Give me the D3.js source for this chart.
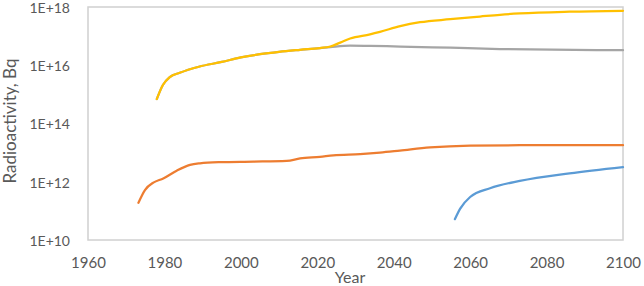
<!DOCTYPE html>
<html>
<head>
<meta charset="utf-8">
<script src="https://cdn.jsdelivr.net/npm/d3@7"></script>
<style>
  body { margin: 0; background: #fff; }
  text { font-family: Lato, "Open Sans", sans-serif; fill: #595959; }
</style>
</head>
<body>
<div id="container"></div>
<script>
// Werte (log-Skala)
const yearTicks = [1960, 1980, 2000, 2020, 2040, 2060, 2080, 2100];
const powerTicks = [1e10, 1e12, 1e14, 1e16, 1e18];

const yellowYears  = [1978, 1979.6, 1981.4, 1984, 1989, 1995, 2000, 2005, 2010, 2015.5, 2020.7, 2023.4, 2026, 2028.6, 2033.8, 2036.4, 2041.7, 2046.9, 2054.8, 2062.6, 2067.8, 2073, 2086, 2100];
const yellowValues = [6.9e14, 2.1e15, 3.9e15, 5.5e15, 8.9e15, 1.3e16, 1.85e16, 2.4e16, 2.9e16, 3.4e16, 3.9e16, 4.4e16, 6.0e16, 8.3e16, 1.15e17, 1.4e17, 2.2e17, 3.0e17, 3.8e17, 4.7e17, 5.4e17, 6.0e17, 6.9e17, 7.4e17];

const grayYears  = [1978, 1979.6, 1981.4, 1984, 1989, 1995, 2000, 2005, 2010, 2015.5, 2020.7, 2023.4, 2028.6, 2033.8, 2041.7, 2054.8, 2067.8, 2100];
const grayValues = [6.9e14, 2.1e15, 3.9e15, 5.5e15, 8.9e15, 1.3e16, 1.85e16, 2.4e16, 2.9e16, 3.4e16, 3.9e16, 4.2e16, 4.7e16, 4.6e16, 4.4e16, 4.0e16, 3.6e16, 3.3e16];

const orangeYears  = [1973.2, 1974.9, 1977.1, 1979.7, 1983.2, 1986.7, 1989.3, 1994.6, 2003.3, 2012, 2015.5, 2020.7, 2024.2, 2031.2, 2036.4, 2041.6, 2049.5, 2060, 2073, 2100];
const orangeValues = [1.9e11, 5.2e11, 9.3e11, 1.3e12, 2.4e12, 3.8e12, 4.3e12, 4.7e12, 4.9e12, 5.2e12, 6.3e12, 7.2e12, 8.1e12, 8.9e12, 1.0e13, 1.17e13, 1.5e13, 1.74e13, 1.8e13, 1.8e13];

const blueYears  = [2056, 2057.4, 2060, 2065.2, 2073, 2086, 2100];
const blueValues = [5.2e10, 1.2e11, 3.0e11, 6.0e11, 1.07e12, 1.95e12, 3.2e12];

const series = [
    {name: "blue",   color: "#5B9BD5", years: blueYears,   values: blueValues},
    {name: "orange", color: "#ED7D31", years: orangeYears, values: orangeValues},
    {name: "gray",   color: "#A5A5A5", years: grayYears,   values: grayValues},
    {name: "yellow", color: "#FFC000", years: yellowYears, values: yellowValues}
];

const width = 644, height = 286;
const margin = {left: 88, right: 21, top: 7, bottom: 46};

const svg = d3.select("#container")
    .append("svg")
    .attr("width", width)
    .attr("height", height);

const x = d3.scaleLinear()
    .domain([1960, 2100])
    .range([margin.left, width - margin.right]);

const y = d3.scaleLog()
    .domain([1e10, 1e18])
    .range([height - margin.bottom, margin.top]);

// Rahmen der Zeichenfläche
svg.append("rect")
    .attr("x", x(1960))
    .attr("y", y(1e18))
    .attr("width", x(2100) - x(1960))
    .attr("height", y(1e10) - y(1e18))
    .attr("fill", "none")
    .attr("stroke", "#d0d0d0")
    .attr("stroke-width", 1.5);

// y-Achse
const yAxis = d3.axisLeft(y)
    .tickValues(powerTicks)
    .tickSize(0)
    .tickPadding(18)
    .tickFormat(d => "1E+" + Math.round(Math.log10(d)));

svg.append("g")
    .attr("transform", `translate(${margin.left},1)`)
    .call(yAxis)
    .call(g => g.select(".domain").remove())
    .selectAll("text")
    .style("font-size", "14px")
    .attr("fill", "#595959");

// x-Achse
const xAxis = d3.axisBottom(x)
    .tickValues(yearTicks)
    .tickSize(0)
    .tickPadding(17)
    .tickFormat(d3.format("d"));

svg.append("g")
    .attr("transform", `translate(0,${height - margin.bottom})`)
    .call(xAxis)
    .call(g => g.select(".domain").remove())
    .selectAll("text")
    .style("font-size", "15px")
    .attr("fill", "#595959");

// Achsentitel
svg.append("text")
    .attr("x", 350)
    .attr("y", 283)
    .attr("text-anchor", "middle")
    .style("font-size", "16px")
    .text("Year");

svg.append("text")
    .attr("transform", "translate(16,121) rotate(-90)")
    .attr("text-anchor", "middle")
    .style("font-size", "17px")
    .text("Radioactivity, Bq");

// Linien
const line = d3.line()
    .x(d => x(d[0]))
    .y(d => y(d[1]))
    .curve(d3.curveMonotoneX);

svg.selectAll("path.series")
    .data(series)
    .enter()
    .append("path")
    .attr("class", "series")
    .attr("fill", "none")
    .attr("stroke", d => d.color)
    .attr("stroke-width", 2.25)
    .attr("stroke-linecap", "round")
    .attr("d", d => line(d.years.map((yr, i) => [yr, d.values[i]])));
</script>
</body>
</html>
